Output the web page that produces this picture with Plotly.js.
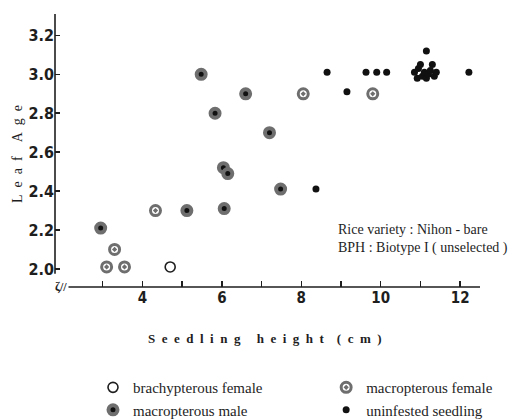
<!DOCTYPE html>
<html>
<head>
<meta charset="utf-8">
<script src="https://cdn.plot.ly/plotly-3.0.1.min.js"></script>
<style>html,body{margin:0;padding:0;background:#fff;}</style>
</head>
<body>
<div id="chart" style="width:532px;height:420px;"></div>
<script>
// Data
const brachyX = [4.7];
const brachyY = [2.01];
const femaleX = [3.1, 3.55, 3.3, 4.33, 8.05, 9.8];
const femaleY = [2.01, 2.01, 2.1, 2.3, 2.9, 2.9];
const maleX = [2.95, 5.12, 5.48, 5.83, 6.6, 6.04, 6.15, 6.06, 7.2, 7.48];
const maleY = [2.21, 2.3, 3.0, 2.8, 2.9, 2.52, 2.49, 2.31, 2.7, 2.41];
const uninfX = [8.65, 8.37, 9.15, 9.63, 9.9, 10.15, 10.85, 10.92, 10.95, 11.0, 11.05, 11.1, 11.15, 11.15, 11.2, 11.25, 11.3, 11.35, 11.4, 12.22];
const uninfY = [3.01, 2.41, 2.91, 3.01, 3.01, 3.01, 3.01, 2.98, 3.03, 3.05, 2.99, 3.01, 2.98, 3.12, 3.0, 3.02, 3.05, 2.99, 3.01, 3.01];

const xTickVals = [3, 4, 5, 6, 7, 8, 9, 10, 11, 12];
const xTickText = ['', '4', '', '6', '', '8', '', '10', '', '12'];
const yTickVals = [2.0, 2.2, 2.4, 2.6, 2.8, 3.0, 3.2];
const yTickText = ['2.0', '2.2', '2.4', '2.6', '2.8', '3.0', '3.2'];

const seriesNames = ['brachypterous female', 'macropterous female', 'macropterous male', 'uninfested seedling'];

const ink = '#1e1e1e';
const serif = 'Liberation Serif, Times New Roman, serif';
const narrow = 'Liberation Sans Narrow, DejaVu Sans Condensed, Arial Narrow, sans-serif';

const traces = [
  {
    x: brachyX, y: brachyY, name: seriesNames[0], type: 'scatter', mode: 'markers',
    legend: 'legend', legendgroup: 'a',
    marker: {symbol: 'circle-open', size: 10, color: ink, line: {color: ink, width: 1.6}}
  },
  {
    x: maleX, y: maleY, name: seriesNames[2], type: 'scatter', mode: 'markers',
    legend: 'legend', legendgroup: 'b',
    marker: {symbol: 'circle', size: 9, color: '#111', line: {color: '#6e6e6e', width: 4}}
  },
  {
    x: femaleX, y: femaleY, name: seriesNames[1], type: 'scatter', mode: 'markers',
    legend: 'legend2', legendgroup: 'c',
    marker: {symbol: 'circle-dot', size: 10, color: '#ffffff', line: {color: '#6e6e6e', width: 3}}
  },
  {
    x: uninfX, y: uninfY, name: seriesNames[3], type: 'scatter', mode: 'markers',
    legend: 'legend2', legendgroup: 'd',
    marker: {symbol: 'circle', size: 7, color: '#111'}
  }
];

const legendCommon = {
  orientation: 'v', xanchor: 'left', yanchor: 'top',
  font: {family: serif, size: 15, color: ink},
  bgcolor: 'rgba(0,0,0,0)', borderwidth: 0, tracegroupgap: 0,
  itemsizing: 'trace'
};

const layout = {
  width: 532, height: 420,
  margin: {l: 55, r: 52, t: 14, b: 133, autoexpand: false},
  paper_bgcolor: '#fff', plot_bgcolor: '#fff',
  showlegend: true,
  legend: Object.assign({}, legendCommon, {x: 0.0894, y: -0.308}),
  legend2: Object.assign({}, legendCommon, {x: 0.638, y: -0.308}),
  xaxis: {
    range: [1.8, 12.5], tickmode: 'array', tickvals: xTickVals, ticktext: xTickText,
    ticks: 'inside', ticklen: 6, tickwidth: 1.5, tickcolor: ink,
    showline: false, showgrid: false, zeroline: false,
    tickfont: {family: narrow, size: 15, weight: 'bold', color: ink}
  },
  yaxis: {
    range: [1.907, 3.31], tickmode: 'array', tickvals: yTickVals, ticktext: yTickText,
    ticks: 'inside', ticklen: 5, tickwidth: 1.5, tickcolor: ink,
    showline: false, showgrid: false, zeroline: false,
    tickfont: {family: narrow, size: 16, weight: 'bold', color: ink}
  },
  shapes: [
    {type: 'line', xref: 'paper', yref: 'y', x0: 0, x1: 0, y0: 1.975, y1: 3.31, line: {color: ink, width: 1.6}},
    {type: 'line', xref: 'x', yref: 'paper', x0: 2.14, x1: 12.5, y0: 0, y1: 0, line: {color: ink, width: 1.6}}
  ],
  annotations: [
    {text: 'ζ//', xref: 'paper', yref: 'paper', x: 0.014, y: 0.0, xanchor: 'center', yanchor: 'middle',
     showarrow: false, font: {family: serif, size: 12, color: ink, weight: 'bold'}},
    {text: 'L\u00a0 e\u00a0 a\u00a0 f\u00a0 \u00a0\u00a0A\u00a0 g\u00a0 e', xref: 'paper', yref: 'paper', x: (17 - 55) / 425, y: (287 - 154) / 273,
     xanchor: 'center', yanchor: 'middle', textangle: -90, showarrow: false,
     font: {family: serif, size: 14, color: ink}},
    {text: 'S\u00a0 e\u00a0 e\u00a0 d\u00a0 l\u00a0 i\u00a0 n\u00a0 g\u00a0 \u00a0\u00a0\u00a0h\u00a0 e\u00a0 i\u00a0 g\u00a0 h\u00a0 t\u00a0 \u00a0\u00a0(\u00a0 c\u00a0 m\u00a0 )', xref: 'paper', yref: 'paper',
     x: (265 - 55) / 425, y: (287 - 338) / 273, xanchor: 'center', yanchor: 'middle', showarrow: false,
     font: {family: serif, size: 13, color: ink, weight: 'bold'}},
    {text: 'Rice variety : Nihon - bare<br>BPH : Biotype I ( unselected )', xref: 'paper', yref: 'paper',
     x: (336 - 55) / 425, y: (287 - 239) / 273, xanchor: 'left', yanchor: 'middle', align: 'left', showarrow: false,
     font: {family: serif, size: 14, color: ink}}
  ]
};

Plotly.newPlot('chart', traces, layout, {displayModeBar: false, staticPlot: true});
</script>
</body>
</html>
